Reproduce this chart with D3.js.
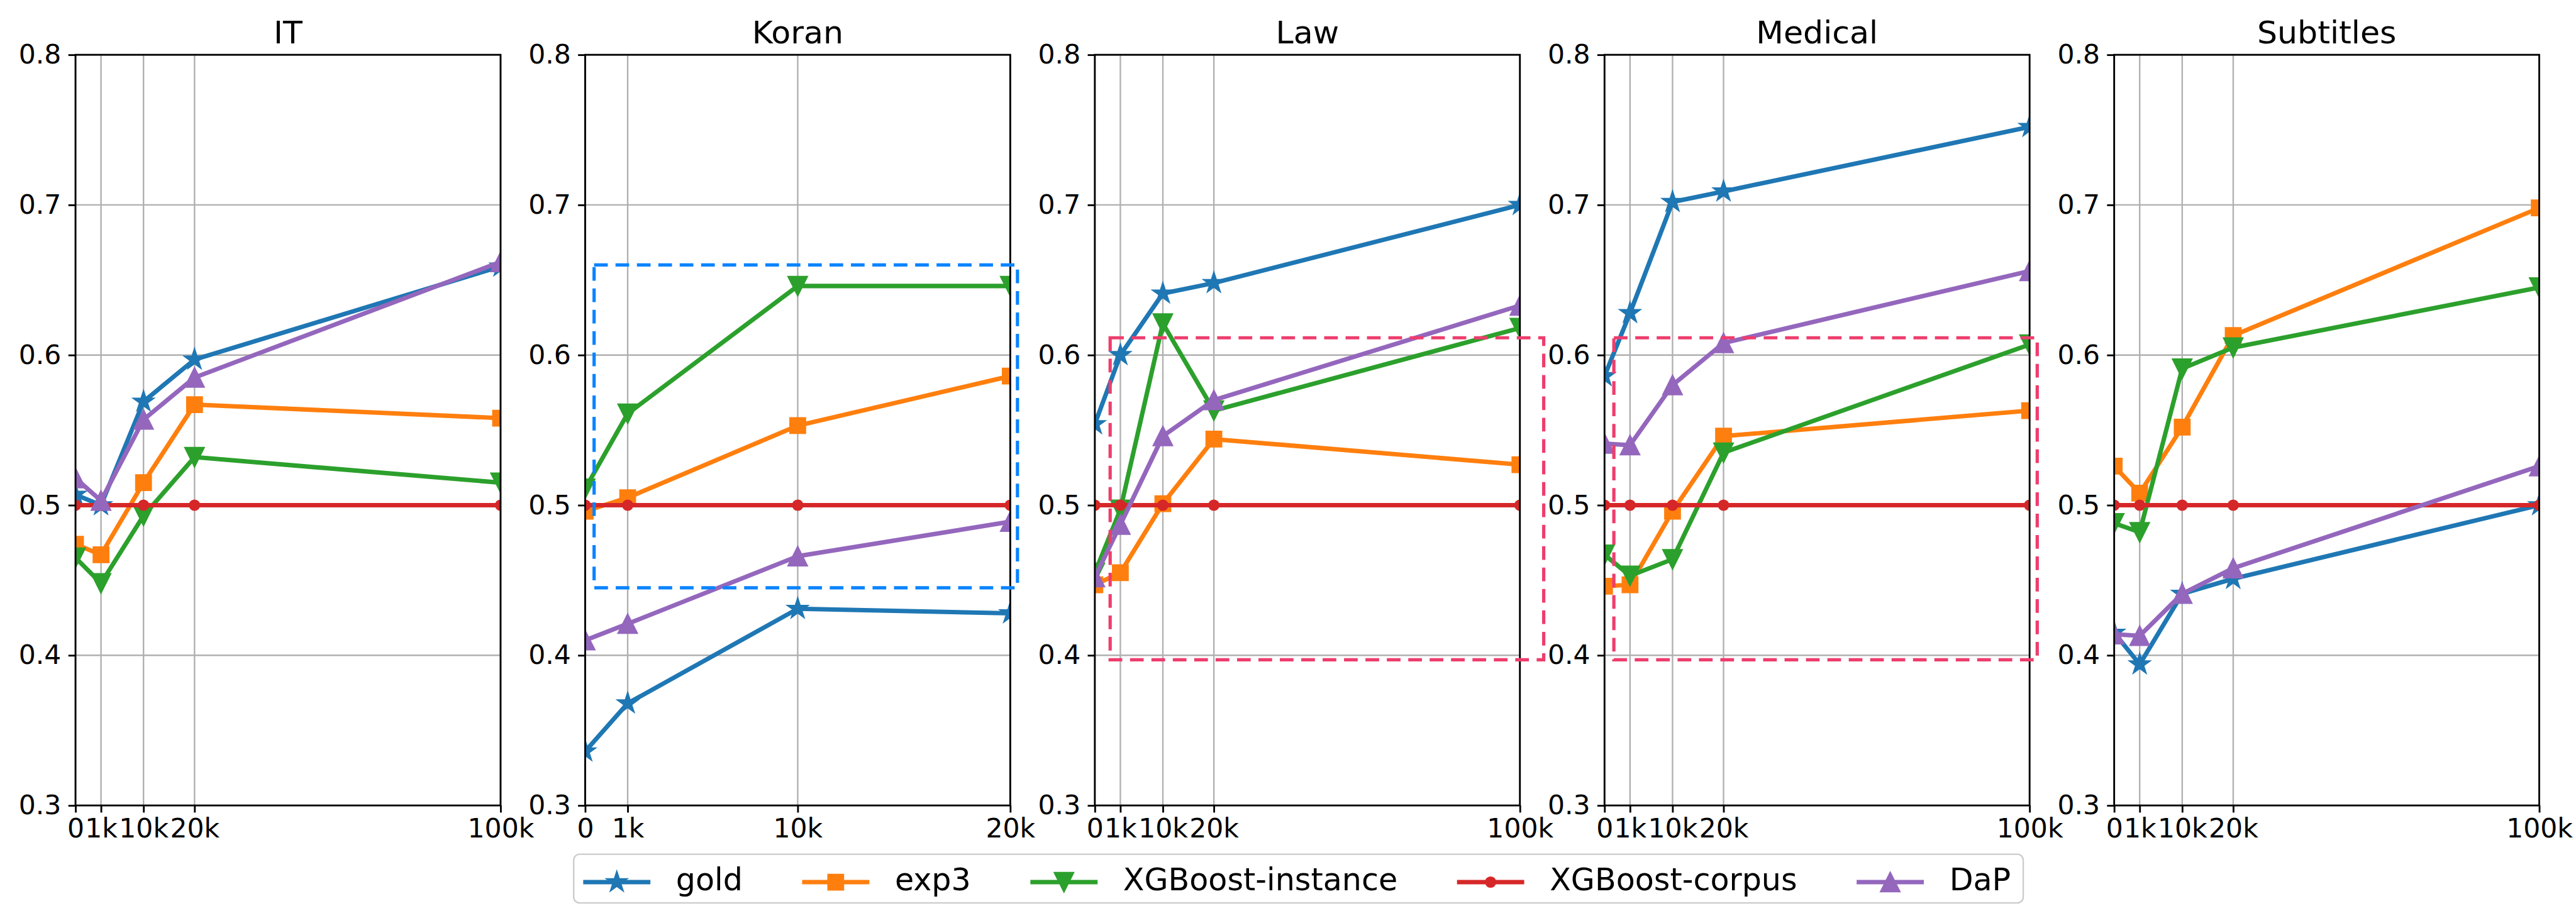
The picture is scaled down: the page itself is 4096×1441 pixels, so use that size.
<!DOCTYPE html>
<html>
<head>
<meta charset="utf-8">
<script src="https://cdn.jsdelivr.net/npm/d3@7"></script>
<style>
  body { margin: 0; background: #fff; }
  text { font-family: "DejaVu Sans", sans-serif; fill: #000; }
</style>
</head>
<body>
<svg id="chart"></svg>
<script>
// reference drawing size; the svg viewBox scales it to the 4096x1441 window
var W = 4333, H = 1524;

var panels = ["IT", "Koran", "Law", "Medical", "Subtitles"];
var xTicks = [0, 1000, 10000, 20000, 100000];
var xTicksKoran = [0, 1000, 10000, 20000];
var yTicks = [0.3, 0.4, 0.5, 0.6, 0.7, 0.8];
var seriesNames = ["gold", "exp3", "XGBoost-instance", "XGBoost-corpus", "DaP"];

// values per panel, one per x tick
var gold = {
  IT:        [0.507, 0.500, 0.569, 0.597, 0.659],
  Koran:     [0.336, 0.368, 0.431, 0.428],
  Law:       [0.554, 0.600, 0.641, 0.648, 0.700],
  Medical:   [0.586, 0.628, 0.702, 0.709, 0.752],
  Subtitles: [0.415, 0.394, 0.441, 0.451, 0.500]
};
var exp3 = {
  IT:        [0.474, 0.467, 0.515, 0.567, 0.558],
  Koran:     [0.496, 0.505, 0.553, 0.586],
  Law:       [0.447, 0.455, 0.501, 0.544, 0.527],
  Medical:   [0.446, 0.447, 0.496, 0.546, 0.563],
  Subtitles: [0.526, 0.508, 0.552, 0.613, 0.698]
};
var xgbInstance = {
  IT:        [0.465, 0.448, 0.493, 0.532, 0.515],
  Koran:     [0.511, 0.561, 0.646, 0.646],
  Law:       [0.455, 0.497, 0.621, 0.563, 0.618],
  Medical:   [0.467, 0.453, 0.464, 0.535, 0.607],
  Subtitles: [0.488, 0.482, 0.591, 0.605, 0.645]
};
var xgbCorpus = {
  IT:        [0.5, 0.5, 0.5, 0.5, 0.5],
  Koran:     [0.5, 0.5, 0.5, 0.5],
  Law:       [0.5, 0.5, 0.5, 0.5, 0.5],
  Medical:   [0.5, 0.5, 0.5, 0.5, 0.5],
  Subtitles: [0.5, 0.5, 0.5, 0.5, 0.5]
};
var dap = {
  IT:        [0.518, 0.503, 0.557, 0.585, 0.662],
  Koran:     [0.410, 0.421, 0.466, 0.489],
  Law:       [0.452, 0.487, 0.546, 0.570, 0.633],
  Medical:   [0.541, 0.540, 0.580, 0.608, 0.656],
  Subtitles: [0.414, 0.413, 0.441, 0.458, 0.526]
};
var seriesData = [gold, exp3, xgbInstance, xgbCorpus, dap];

// highlighted regions: axes fraction in x, data value in y
var boxes = [
  {panel: "Koran",   x0: 0.021, x1: 1.017, y0: 0.445, y1: 0.660, color: "#0a84ff"},
  {panel: "Law",     x0: 0.036, x1: 1.056, y0: 0.397, y1: 0.6115, color: "#ee3d6d"},
  {panel: "Medical", x0: 0.022, x1: 1.018, y0: 0.397, y1: 0.6115, color: "#ee3d6d"}
];

// ---- layout / style ----
var colors  = ["#1f77b4", "#ff7f0e", "#2ca02c", "#d62728", "#9467bd"];
var markers = ["star", "square", "triDown", "dot", "triUp"];
var panelLeft = 127, panelStep = 857.3, pw = 715;
var plotTop = 92, plotBottom = 1355;
var xFrac = [0, 0.06, 0.16, 0.28, 1];      // where the x ticks sit across a panel
var xFracKoran = [0, 0.1, 0.5, 1];

var svg = d3.select("#chart")
  .attr("width", 4096).attr("height", 1441)
  .attr("viewBox", "0 0 " + W + " " + H);
svg.append("rect").attr("width", W).attr("height", H).attr("fill", "#fff");

var y = d3.scaleLinear().domain([0.3, 0.8]).range([plotBottom, plotTop]);

var triUp = {draw: function(ctx, size) {
  var r = Math.sqrt(size) / 2;
  ctx.moveTo(0, -r); ctx.lineTo(r, r); ctx.lineTo(-r, r); ctx.closePath();
}};
var triDown = {draw: function(ctx, size) {
  var r = Math.sqrt(size) / 2;
  ctx.moveTo(0, r); ctx.lineTo(r, -r); ctx.lineTo(-r, -r); ctx.closePath();
}};
var symbolFor = {
  star:    d3.symbol().type(d3.symbolStar).size(320),
  square:  d3.symbol().type(d3.symbolSquare).size(640),
  triDown: d3.symbol().type(triDown).size(980),
  triUp:   d3.symbol().type(triUp).size(980),
  dot:     d3.symbol().type(d3.symbolCircle).size(230)
};

function drawMarker(g, kind, color, cx, cy) {
  g.append("path")
    .attr("d", symbolFor[kind]())
    .attr("transform", "translate(" + cx + "," + cy + ")")
    .attr("fill", color)
    .attr("stroke", color)
    .attr("stroke-width", kind === "dot" ? 2 : 3)
    .attr("stroke-linejoin", "miter");
}

var fmtX = function(d) { return d === 0 ? "0" : (d / 1000) + "k"; };

panels.forEach(function(name, i) {
  var ticks = name === "Koran" ? xTicksKoran : xTicks;
  var frac = name === "Koran" ? xFracKoran : xFrac;
  var x = d3.scaleLinear().domain(ticks).range(frac.map(function(f) { return f * pw; }));

  var g = svg.append("g").attr("transform", "translate(" + (panelLeft + i * panelStep) + ",0)");

  // grid
  g.append("g").selectAll("line").data(yTicks).enter().append("line")
    .attr("x1", 0).attr("x2", pw)
    .attr("y1", function(d) { return y(d); }).attr("y2", function(d) { return y(d); })
    .attr("stroke", "#b0b0b0").attr("stroke-width", 2.5);
  g.append("g").selectAll("line").data(ticks).enter().append("line")
    .attr("y1", plotTop).attr("y2", plotBottom)
    .attr("x1", function(d) { return x(d); }).attr("x2", function(d) { return x(d); })
    .attr("stroke", "#b0b0b0").attr("stroke-width", 2.5);

  // lines + markers, clipped to the plot area
  var clipId = "clip" + i;
  g.append("clipPath").attr("id", clipId).append("rect")
    .attr("x", 0).attr("y", plotTop).attr("width", pw).attr("height", plotBottom - plotTop);
  var plot = g.append("g").attr("clip-path", "url(#" + clipId + ")");

  seriesData.forEach(function(s, k) {
    var vals = s[name];
    var line = d3.line()
      .x(function(d, j) { return x(ticks[j]); })
      .y(function(d) { return y(d); });
    plot.append("path").datum(vals)
      .attr("d", line)
      .attr("fill", "none")
      .attr("stroke", colors[k])
      .attr("stroke-width", 7.5)
      .attr("stroke-linejoin", "round")
      .attr("stroke-linecap", "square");
    vals.forEach(function(v, j) {
      drawMarker(plot, markers[k], colors[k], x(ticks[j]), y(v));
    });
  });

  // axes
  var yAxis = d3.axisLeft(y).tickValues(yTicks).tickFormat(d3.format(".1f"))
    .tickSize(12).tickPadding(12).tickSizeOuter(0);
  var ya = g.append("g").call(yAxis);
  ya.select(".domain").remove();
  ya.selectAll("line").attr("stroke", "#000").attr("stroke-width", 3);
  ya.selectAll("text").attr("font-size", 45).attr("font-family", "DejaVu Sans");

  var xAxis = d3.axisBottom(x).tickValues(ticks).tickFormat(fmtX)
    .tickSize(12).tickPadding(10).tickSizeOuter(0);
  var xa = g.append("g").attr("transform", "translate(0," + plotBottom + ")").call(xAxis);
  xa.select(".domain").remove();
  xa.selectAll("line").attr("stroke", "#000").attr("stroke-width", 3);
  xa.selectAll("text").attr("font-size", 45).attr("font-family", "DejaVu Sans");

  // spines
  g.append("rect").attr("x", 0).attr("y", plotTop).attr("width", pw).attr("height", plotBottom - plotTop)
    .attr("fill", "none").attr("stroke", "#000").attr("stroke-width", 3);

  g.append("text").attr("x", pw / 2).attr("y", 73)
    .attr("text-anchor", "middle").attr("font-size", 53.5).text(name);
});

// dashed highlight boxes
boxes.forEach(function(b) {
  var i = panels.indexOf(b.panel);
  var left = panelLeft + i * panelStep;
  svg.append("rect")
    .attr("x", left + b.x0 * pw).attr("y", y(b.y1))
    .attr("width", (b.x1 - b.x0) * pw).attr("height", y(b.y0) - y(b.y1))
    .attr("fill", "none").attr("stroke", b.color)
    .attr("stroke-width", 5.5).attr("stroke-dasharray", "23,13");
});

// legend
var leg = svg.append("g");
var legBox = leg.append("rect")
  .attr("x", 965).attr("y", 1437).attr("height", 82).attr("rx", 10)
  .attr("fill", "#fff").attr("fill-opacity", 0.8)
  .attr("stroke", "#cccccc").attr("stroke-width", 2.5);
var lx = 981, ly = 1484, handleLen = 113;
seriesNames.forEach(function(n, k) {
  leg.append("line").attr("x1", lx).attr("x2", lx + handleLen)
    .attr("y1", ly).attr("y2", ly)
    .attr("stroke", colors[k]).attr("stroke-width", 7.5);
  drawMarker(leg, markers[k], colors[k], lx + handleLen / 2, ly);
  var t = leg.append("text").attr("x", lx + handleLen + 43).attr("y", 1498)
    .attr("font-size", 52).text(n);
  var tw = t.node().getComputedTextLength();
  lx = lx + handleLen + 43 + tw + (k < seriesNames.length - 1 ? 100 : 0);
});
legBox.attr("width", lx + 21 - 965);
</script>
</body>
</html>
